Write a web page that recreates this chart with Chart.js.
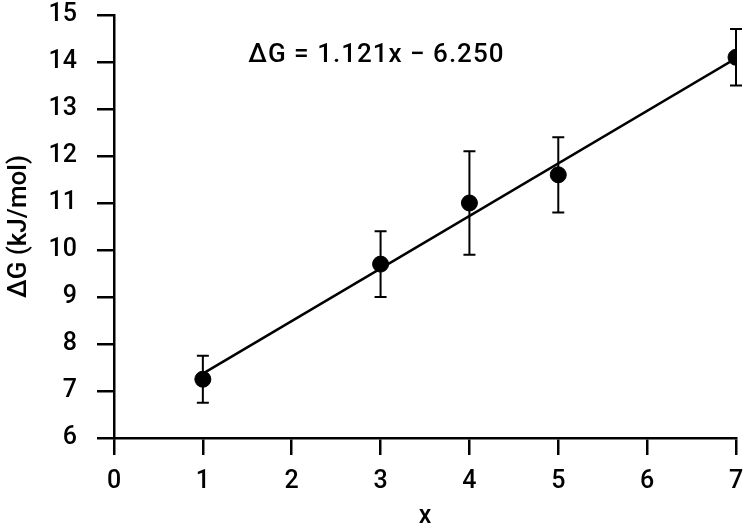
<!DOCTYPE html>
<html>
<head>
<meta charset="utf-8">
<script src="https://cdn.jsdelivr.net/npm/chart.js@4.4.1/dist/chart.umd.min.js"></script>
<style>
  html, body { margin: 0; padding: 0; background: #fff; }
  #wrap { width: 750px; height: 532px; }
</style>
</head>
<body>
<div id="wrap"><canvas id="c" width="750" height="532"></canvas></div>
<script>
// data
const xValues = [1, 3, 4, 5, 7];
const dG = [7.25, 9.7, 11.0, 11.6, 14.1];
const errLow = [6.75, 9.0, 9.9, 10.8, 13.5];
const errHigh = [7.75, 10.4, 12.1, 12.4, 14.7];

// fitted line end points
const fitX = [1, 7];
const fitY = [7.37, 14.08];

const xTicks = [0, 1, 2, 3, 4, 5, 6, 7];
const yTicks = [6, 7, 8, 9, 10, 11, 12, 13, 14, 15];
const equationText = 'ΔG = 1.121x − 6.250';

const FONT = 'Roboto, "Liberation Sans", Arial, sans-serif';

// error bars + equation, drawn through the scales
const errorBars = {
  id: 'errorBars',
  beforeDatasetsDraw(chart) {
    const { ctx, scales: { x, y } } = chart;
    ctx.save();
    ctx.strokeStyle = '#000';
    ctx.lineWidth = 2;
    xValues.forEach((v, i) => {
      const px = x.getPixelForValue(v);
      const lo = y.getPixelForValue(errLow[i]);
      const hi = y.getPixelForValue(errHigh[i]);
      ctx.beginPath();
      ctx.moveTo(px, lo); ctx.lineTo(px, hi);
      ctx.moveTo(px - 6, lo); ctx.lineTo(px + 6, lo);
      ctx.moveTo(px - 6, hi); ctx.lineTo(px + 6, hi);
      ctx.stroke();
    });
    ctx.restore();
  },
  afterDraw(chart) {
    const { ctx, scales: { x, y } } = chart;
    ctx.save();
    ctx.fillStyle = '#000';
    ctx.font = '500 26px ' + FONT;
    ctx.letterSpacing = '1px';
    ctx.textBaseline = 'alphabetic';
    ctx.fillText(equationText, x.getPixelForValue(1.51), y.getPixelForValue(14.0));
    ctx.restore();
  }
};

new Chart(document.getElementById('c'), {
  type: 'scatter',
  data: {
    datasets: [
      {
        type: 'line',
        data: fitX.map((v, i) => ({ x: v, y: fitY[i] })),
        borderColor: '#000',
        borderWidth: 2.5,
        pointRadius: 0,
        fill: false
      },
      {
        data: xValues.map((v, i) => ({ x: v, y: dG[i] })),
        backgroundColor: '#000',
        borderColor: '#000',
        pointRadius: 8,
        pointHoverRadius: 8
      }
    ]
  },
  options: {
    responsive: false,
    animation: false,
    layout: { padding: { top: 15, right: 14, left: 0, bottom: 0 } },
    plugins: { legend: { display: false }, tooltip: { enabled: false } },
    scales: {
      x: {
        type: 'linear',
        min: 0, max: 7,
        afterFit(s) { s.height = 94; s.paddingLeft = 0; s.paddingRight = 0; },
        afterBuildTicks(s) { s.ticks = xTicks.map(v => ({ value: v })); },
        border: { color: '#000', width: 2.5 },
        grid: { drawOnChartArea: false, tickLength: 17, tickColor: '#000', lineWidth: 2.5 },
        ticks: { color: '#000', padding: 12, maxRotation: 0, font: { family: FONT, size: 25, weight: '500' } },
        title: { display: true, text: 'x', color: '#000', font: { family: FONT, size: 25, weight: '500' }, padding: { top: 0, bottom: 0 } }
      },
      y: {
        type: 'linear',
        min: 6, max: 15,
        afterFit(s) { s.width = 114; s.paddingTop = 0; s.paddingBottom = 0; },
        afterBuildTicks(s) { s.ticks = yTicks.map(v => ({ value: v })); },
        border: { color: '#000', width: 2.5 },
        grid: { drawOnChartArea: false, tickLength: 17, tickColor: '#000', lineWidth: 2.5 },
        ticks: { color: '#000', padding: 20, font: { family: FONT, size: 25, weight: '500' } },
        title: { display: true, text: 'ΔG (kJ/mol)', color: '#000', font: { family: FONT, size: 26, weight: '500' }, padding: { top: 4, bottom: 0 } }
      }
    }
  },
  plugins: [errorBars]
});
</script>
</body>
</html>
